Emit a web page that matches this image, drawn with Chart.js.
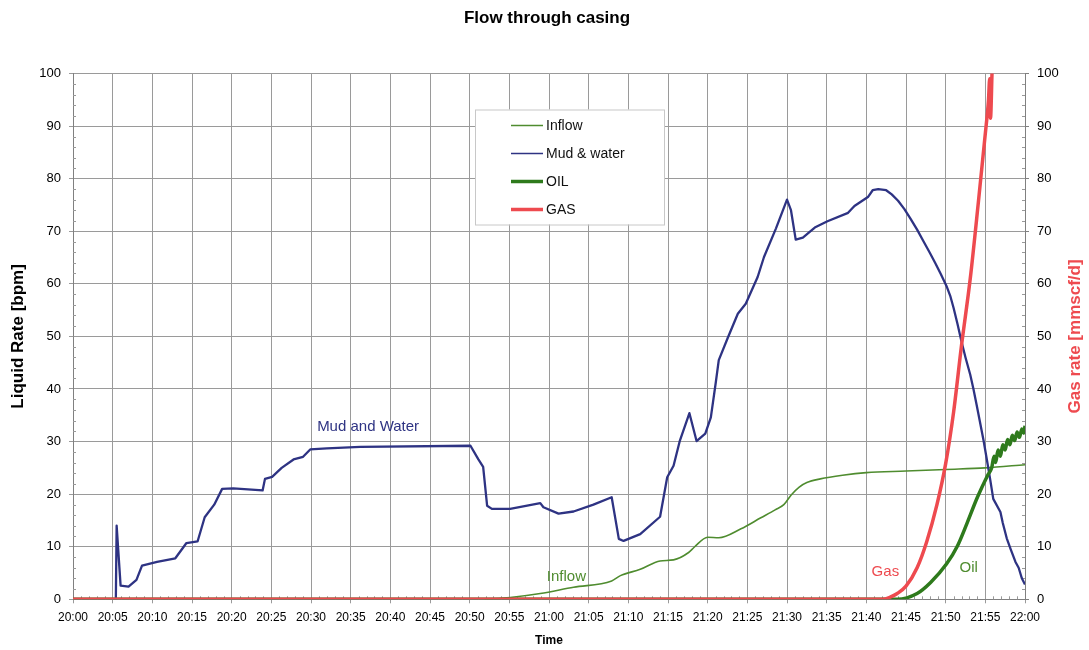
<!DOCTYPE html>
<html>
<head>
<meta charset="utf-8">
<script src="https://cdn.jsdelivr.net/npm/chart.js@4.4.1/dist/chart.umd.min.js"></script>
<style>
  html, body { margin: 0; padding: 0; background: #fff; }
  #wrap { width: 1089px; height: 650px; }
</style>
</head>
<body>
<div id="wrap"><canvas id="chart" width="1089" height="650"></canvas></div>
<script>
// time in minutes after 20:00
const mudTime = [5.4, 5.5, 6.0, 7.0, 8.0, 8.7, 10.6, 12.9, 14.3, 15.7, 16.6, 17.8, 18.8, 20.2, 23.9, 24.2, 25.1, 26.3, 27.8, 29.0, 29.9, 32.0, 36.2, 50.1,
  51.1, 51.7, 52.2, 52.8, 55.1, 58.9, 59.3, 61.2, 63.1, 65.6, 67.9, 68.8, 69.4, 71.5, 74.0, 74.9, 75.7, 76.5, 77.7, 78.6, 79.7,
  80.4, 81.0, 81.4, 82.5, 83.8, 84.8, 86.3, 87.1, 88.6, 90.0, 90.5, 91.1, 92.0, 93.5, 95.1, 97.7, 98.5, 100.2, 100.8, 101.5, 102.5,
  103.2, 104.0, 104.8, 105.6, 106.4, 107.2, 108.0, 108.7, 109.4, 110.1, 110.6, 111.0, 111.5, 112.0, 112.5, 113.1, 113.5, 113.9, 114.3, 114.8, 115.2, 115.6,
  116.0, 116.9, 117.2, 117.7, 118.2, 118.8, 119.2, 119.6, 120];
const mudRate = [0, 14, 2.6, 2.4, 3.7, 6.4, 7.1, 7.8, 10.7, 11.0, 15.6, 18.0, 21.0, 21.1, 20.7, 22.9, 23.3, 25.0, 26.6, 27.1, 28.5, 28.7, 29.0, 29.2,
  26.6, 25.2, 17.8, 17.2, 17.2, 18.3, 17.5, 16.3, 16.7, 18.0, 19.4, 11.5, 11.1, 12.4, 15.7, 23.2, 25.4, 30.2, 35.4, 30.1, 31.5,
  34.6, 41.0, 45.5, 49.6, 54.3, 56.2, 61.3, 65.1, 70.5, 76.0, 74.0, 68.4, 68.8, 70.7, 71.9, 73.5, 74.8, 76.5, 77.8, 78.0, 77.8,
  77.0, 75.8, 74.2, 72.3, 70.3, 68.1, 65.9, 63.9, 61.8, 59.6, 57.6, 55.4, 52.3, 49.0, 46.0, 42.7, 40.0, 37.0, 33.9, 30.0, 26.5, 22.9,
  19.1, 16.6, 14.5, 11.6, 9.5, 7.1, 6.0, 4.0, 2.8];

const inflowTime = [51.9, 55.1, 58.9, 63.1, 67.9, 69.0, 71.5, 74.0, 75.7, 77.6, 78.3, 80.0, 81.4, 84.2, 86.7, 88.5, 89.6, 90.5, 91.5, 92.5, 94.2, 97, 100, 105, 110, 115, 120];
const inflowRate = [0, 0.35, 1.1, 2.3, 3.5, 4.5, 5.7, 7.3, 7.5, 8.9, 9.9, 11.8, 11.7, 13.4, 15.5, 17.0, 18.0, 19.8, 21.3, 22.2, 22.9, 23.6, 24.1, 24.4, 24.7, 25.0, 25.6];

const oilTime = [0, 103.9, 106.4, 108.1, 110.1, 111.5, 112.7, 114.0, 115.3, 115.8, 116.1, 116.3, 116.6, 116.9, 117.2, 117.5, 117.8, 118.1, 118.4, 118.7, 119.0, 119.3, 119.6, 119.85, 120];
const oilRate = [0, 0, 1.1, 3.2, 6.7, 10.2, 14.5, 19.4, 23.6, 25.0, 27.2, 26.0, 28.4, 27.2, 29.4, 28.4, 30.4, 29.4, 31.2, 30.2, 31.8, 30.8, 32.4, 31.6, 33.0];

const gasTime = [0, 102.0, 103.0, 103.9, 105.0, 106.4, 107.6, 108.9, 110.0, 111.0, 112.0, 113.1, 114.1, 115.0, 115.4, 115.55, 115.65, 115.85];
const gasRate = [0, 0, 0.4, 1.1, 2.5, 6.0, 10.9, 18.0, 25.8, 35.6, 48.3, 61.0, 75.2, 88.6, 95, 99, 91.5, 100.5];

const yTicks = [0, 10, 20, 30, 40, 50, 60, 70, 80, 90, 100];

const colors = {
  mud: "#2e3383",
  inflow: "#4f8c2f",
  oil: "#2e7a1c",
  gas: "#ee4a4f"
};

const FONT = "'Liberation Sans', Arial, sans-serif";

function pts(xs, ys) {
  return xs.map((x, i) => ({ x: x, y: ys[i] }));
}

function timeLabel(v) {
  const h = 20 + Math.floor(v / 60);
  const m = v % 60;
  return h + ":" + (m < 10 ? "0" + m : m);
}

// labels written on the plot (data coordinates)
const notes = [
  { text: "Mud and Water", x: 37.2, y: 32.8, color: colors.mud },
  { text: "Inflow", x: 62.2, y: 4.2, color: colors.inflow },
  { text: "Gas", x: 102.4, y: 5.2, color: colors.gas },
  { text: "Oil", x: 112.9, y: 6.0, color: colors.inflow }
];

const extras = {
  id: "extras",
  beforeDatasetsDraw(chart) {
    const ctx = chart.ctx;
    const a = chart.chartArea;
    const x = chart.scales.x, y = chart.scales.y, y2 = chart.scales.y2;
    ctx.save();
    ctx.strokeStyle = "#999";
    ctx.lineWidth = 1;
    ctx.beginPath();
    for (let v = 2; v < 100; v += 2) {
      if (v % 10 === 0) continue;
      const py = Math.round(y.getPixelForValue(v)) + 0.5;
      ctx.moveTo(a.left, py); ctx.lineTo(a.left + 3, py);
      const py2 = Math.round(y2.getPixelForValue(v)) + 0.5;
      ctx.moveTo(a.right - 3, py2); ctx.lineTo(a.right, py2);
    }
    for (let m = 1; m < 120; m++) {
      if (m % 5 === 0) continue;
      const px = Math.round(x.getPixelForValue(m)) + 0.5;
      ctx.moveTo(px, a.bottom); ctx.lineTo(px, a.bottom - 3);
    }
    ctx.stroke();
    ctx.restore();
  },
  afterDraw(chart) {
    const ctx = chart.ctx;
    const a = chart.chartArea;
    const x = chart.scales.x, y = chart.scales.y;
    ctx.save();

    // title
    ctx.fillStyle = "#000";
    ctx.font = "bold 17px " + FONT;
    ctx.textAlign = "center";
    ctx.textBaseline = "middle";
    ctx.fillText("Flow through casing", 547, 18);

    // right axis title
    ctx.save();
    ctx.translate(1075, (a.top + a.bottom) / 2);
    ctx.rotate(-Math.PI / 2);
    ctx.fillStyle = colors.gas;
    ctx.font = "bold 17px " + FONT;
    ctx.fillText("Gas rate [mmscf/d]", 0, 0);
    ctx.restore();

    // notes
    ctx.font = "15px " + FONT;
    notes.forEach(n => {
      ctx.fillStyle = n.color;
      ctx.fillText(n.text, x.getPixelForValue(n.x), y.getPixelForValue(n.y));
    });

    // legend box
    const lx = a.left + 402, ly = a.top + 36, lw = 189, lh = 115;
    ctx.fillStyle = "#fff";
    ctx.fillRect(lx, ly, lw, lh);
    ctx.strokeStyle = "#c8c8c8";
    ctx.lineWidth = 1;
    ctx.strokeRect(lx + 0.5, ly + 0.5, lw, lh);
    const items = [
      { text: "Inflow", color: colors.inflow, w: 1.5 },
      { text: "Mud & water", color: colors.mud, w: 1.5 },
      { text: "OIL", color: colors.oil, w: 3.5 },
      { text: "GAS", color: colors.gas, w: 3.5 }
    ];
    ctx.textAlign = "left";
    ctx.font = "14px " + FONT;
    items.forEach((it, i) => {
      const cy = ly + 16 + i * 28;
      ctx.strokeStyle = it.color;
      ctx.lineWidth = it.w;
      ctx.beginPath();
      ctx.moveTo(lx + 36, cy); ctx.lineTo(lx + 68, cy);
      ctx.stroke();
      ctx.fillStyle = "#111";
      ctx.fillText(it.text, lx + 71, cy + 1);
    });
    ctx.restore();
  }
};

const config = {
  type: "line",
  data: {
    datasets: [
      {
        label: "GAS",
        data: pts(gasTime, gasRate),
        yAxisID: "y2",
        borderColor: colors.gas,
        borderWidth: 3.5,
        cubicInterpolationMode: "monotone"
      },
      {
        label: "OIL",
        data: pts(oilTime, oilRate),
        yAxisID: "y",
        borderColor: colors.oil,
        borderWidth: 3.5,
        cubicInterpolationMode: "monotone"
      },
      {
        label: "Mud & water",
        data: pts(mudTime, mudRate),
        yAxisID: "y",
        borderColor: colors.mud,
        borderWidth: 2.3,
        borderJoinStyle: "round"
      },
      {
        label: "Inflow",
        data: pts(inflowTime, inflowRate),
        yAxisID: "y",
        borderColor: colors.inflow,
        borderWidth: 1.6,
        cubicInterpolationMode: "monotone"
      }
    ]
  },
  options: {
    responsive: false,
    animation: false,
    devicePixelRatio: 1,
    layout: { padding: { top: 73.5, left: 0, right: 0, bottom: 0 } },
    elements: { point: { radius: 0 }, line: { tension: 0, fill: false } },
    plugins: {
      legend: { display: false },
      tooltip: { enabled: false },
      title: { display: false }
    },
    scales: {
      x: {
        type: "linear",
        min: 0,
        max: 120,
        afterBuildTicks(scale) {
          const t = [];
          for (let v = 0; v <= 120; v += 5) t.push({ value: v });
          scale.ticks = t;
        },
        afterFit(scale) { scale.height = 50.7; },
        ticks: {
          callback: v => timeLabel(v),
          color: "#000",
          font: { family: FONT, size: 12 },
          padding: 7,
          maxRotation: 0,
          autoSkip: false
        },
        grid: { color: "#9a9a9a", tickLength: 4 },
        border: { color: "#808080" },
        title: {
          display: true,
          text: "Time",
          color: "#000",
          font: { family: FONT, size: 12, weight: "bold" },
          padding: { top: 0, bottom: 2 }
        }
      },
      y: {
        position: "left",
        min: 0,
        max: 100,
        afterBuildTicks(scale) { scale.ticks = yTicks.map(v => ({ value: v })); },
        afterFit(scale) { scale.width = 73; },
        ticks: {
          color: "#000",
          font: { family: FONT, size: 13 },
          padding: 8
        },
        grid: { color: "#9a9a9a", tickLength: 4 },
        border: { color: "#808080" },
        title: {
          display: true,
          text: "Liquid Rate [bpm]",
          color: "#000",
          font: { family: FONT, size: 17, weight: "bold" },
          padding: { top: 8, bottom: 0 }
        }
      },
      y2: {
        position: "right",
        min: 0,
        max: 100,
        afterBuildTicks(scale) { scale.ticks = yTicks.map(v => ({ value: v })); },
        afterFit(scale) { scale.width = 64; },
        ticks: {
          color: "#000",
          font: { family: FONT, size: 13 },
          padding: 8
        },
        grid: { drawOnChartArea: false, color: "#808080", tickLength: 4 },
        border: { color: "#808080" }
      }
    }
  },
  plugins: [extras]
};

new Chart(document.getElementById("chart"), config);
</script>
</body>
</html>
